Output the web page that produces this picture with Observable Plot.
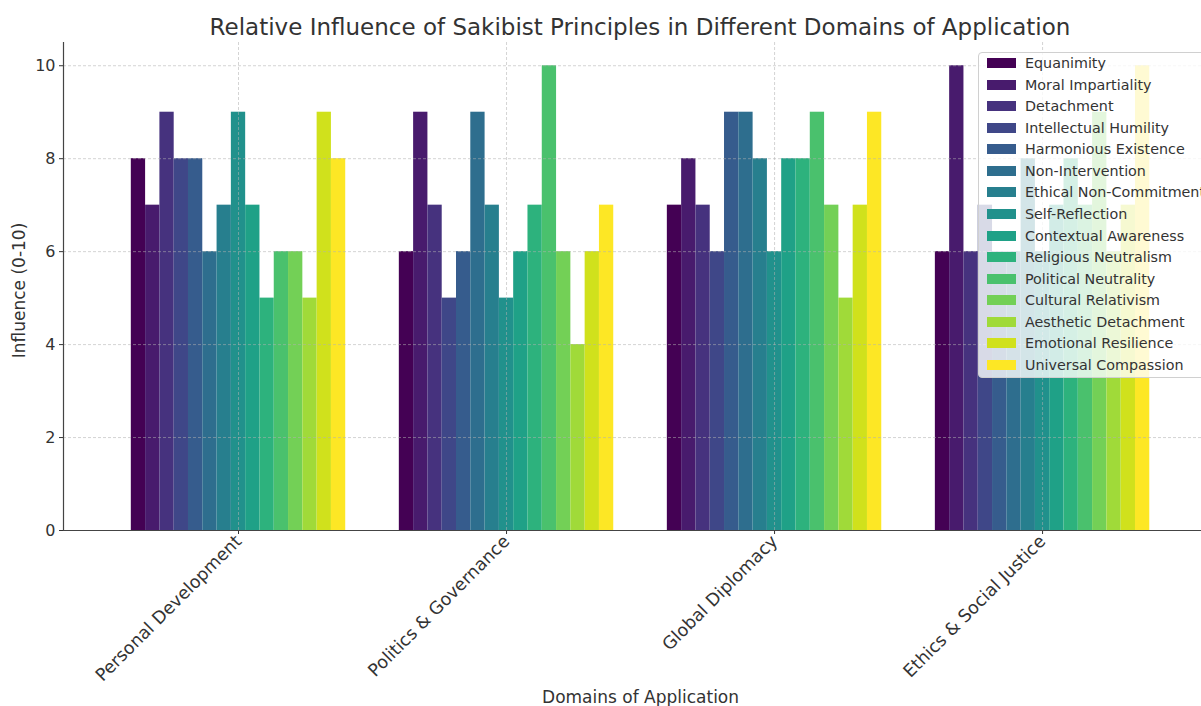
<!DOCTYPE html>
<html><head><meta charset="utf-8">
<script src="https://cdn.jsdelivr.net/npm/d3@7"></script>
<script src="https://cdn.jsdelivr.net/npm/@observablehq/plot@0.6"></script>
<style>
html,body{margin:0;padding:0;background:#fff;overflow:hidden;width:1201px;height:706px;}
#wrap{position:relative;width:1201px;height:706px;overflow:hidden;font-family:"DejaVu Sans",sans-serif;}
#title{position:absolute;left:0;top:13px;width:1280px;text-align:center;font-size:23px;line-height:28px;color:#333;white-space:nowrap;}
#chart{position:absolute;left:0;top:42px;}
#legend{position:absolute;left:978px;top:52px;width:250px;height:326px;box-sizing:border-box;background:rgba(255,255,255,0.8);border:1px solid #d0d0d0;border-radius:4px;}
.sw{position:absolute;left:8px;width:29px;height:10px;}
.lt{position:absolute;left:46px;font-size:14.3px;line-height:18px;color:#333;white-space:nowrap;}
</style></head><body>
<div id="wrap"><div id="title">Relative Influence of Sakibist Principles in Different Domains of Application</div><div id="chart"></div><div id="legend"></div></div>
<script>
const domains = ["Personal Development", "Politics & Governance", "Global Diplomacy", "Ethics & Social Justice"];
const principles = ["Equanimity", "Moral Impartiality", "Detachment", "Intellectual Humility", "Harmonious Existence", "Non-Intervention", "Ethical Non-Commitment", "Self-Reflection", "Contextual Awareness", "Religious Neutralism", "Political Neutrality", "Cultural Relativism", "Aesthetic Detachment", "Emotional Resilience", "Universal Compassion"];
const personalDevelopment = [8, 7, 9, 8, 8, 6, 7, 9, 7, 5, 6, 6, 5, 9, 8];
const politicsGovernance = [6, 9, 7, 5, 6, 9, 7, 5, 6, 7, 10, 6, 4, 6, 7];
const globalDiplomacy = [7, 8, 7, 6, 9, 9, 8, 6, 8, 8, 9, 7, 5, 7, 9];
const ethicsSocialJustice = [6, 10, 6, 7, 6, 6, 8, 6, 7, 8, 7, 9, 6, 7, 10];
const yTicks = [0, 2, 4, 6, 8, 10];

const series = [personalDevelopment, politicsGovernance, globalDiplomacy, ethicsSocialJustice];
const n = principles.length;
const groupWidth = 0.8;
const w = groupWidth / n;
const data = [];
series.forEach((vals, i) => vals.forEach((v, j) => data.push({
  domain: domains[i], principle: principles[j], value: v,
  x1: i - groupWidth / 2 + j * w, x2: i - groupWidth / 2 + (j + 1) * w
})));
const colors = principles.map((_, j) => d3.interpolateViridis(j / (n - 1)));

const chart = Plot.plot({
  width: 1201, height: 664,
  marginLeft: 63, marginRight: 0, marginTop: 0, marginBottom: 176,
  style: {fontFamily: "DejaVu Sans, sans-serif", fontSize: "16px", color: "#333", background: "white"},
  x: {type: "linear", domain: [-0.653, 3.593]},
  y: {domain: [0, 10.5]},
  color: {domain: principles, range: colors},
  marks: [
    Plot.rectY(data, {x1: "x1", x2: "x2", y: "value", fill: "principle"}),
    Plot.gridY(yTicks, {stroke: "#b0b0b0", strokeOpacity: 0.55, strokeDasharray: "3,2", strokeWidth: 1}),
    Plot.gridX([0, 1, 2, 3], {stroke: "#b0b0b0", strokeOpacity: 0.55, strokeDasharray: "3,2", strokeWidth: 1}),
    Plot.axisY(yTicks, {label: null, tickSize: 4, tickPadding: 4, fontSize: 16, stroke: "#333"}),
    Plot.axisX([0, 1, 2, 3], {label: null, tickFormat: i => domains[i], tickRotate: -45, tickSize: 4, tickPadding: 4, fontSize: 17.5, stroke: "#333"}),
    Plot.ruleY([0], {stroke: "#444", strokeWidth: 1.2}),
    Plot.ruleX([-0.653], {stroke: "#444", strokeWidth: 1.2}),
    Plot.text(["Influence (0-10)"], {frameAnchor: "left", rotate: -90, dx: -44, dy: 4, textAnchor: "middle", lineAnchor: "middle", fontSize: 17, fill: "#333"}),
    Plot.text(["Domains of Application"], {x: () => 1.5, frameAnchor: "bottom", dy: 167, lineAnchor: "middle", fontSize: 17, fill: "#333"})
  ]
});
document.getElementById("chart").appendChild(chart);

const legend = document.getElementById("legend");
principles.forEach((p, j) => {
  const c = 10 + j * 21.57;
  const sw = document.createElement("div");
  sw.className = "sw"; sw.style.top = (c - 5) + "px"; sw.style.background = colors[j];
  const t = document.createElement("div");
  t.className = "lt"; t.style.top = (c - 9) + "px"; t.textContent = p;
  legend.appendChild(sw); legend.appendChild(t);
});
</script>
</body></html>
